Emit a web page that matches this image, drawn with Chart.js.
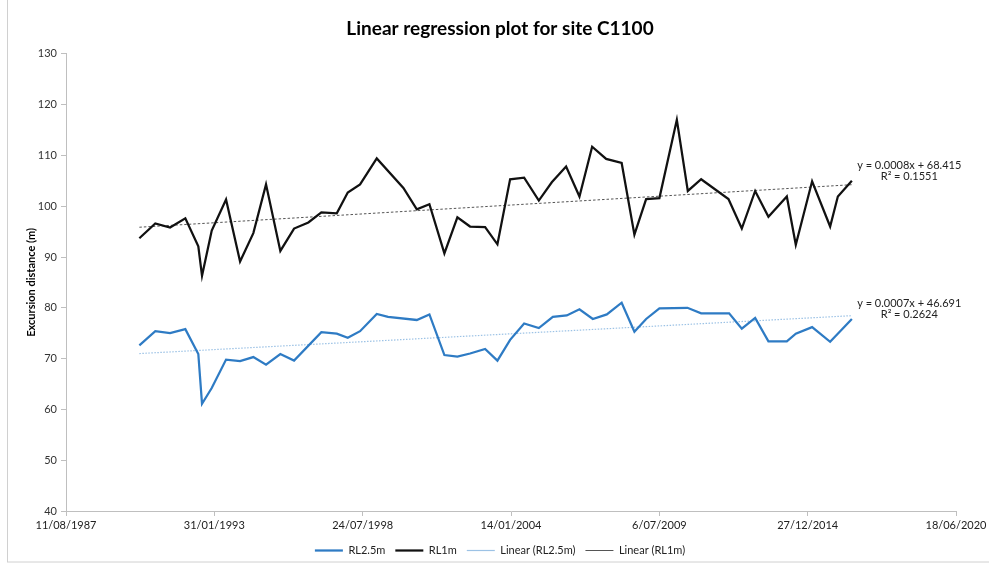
<!DOCTYPE html>
<html>
<head>
<meta charset="utf-8">
<script src="https://cdn.jsdelivr.net/npm/chart.js@4.4.0/dist/chart.umd.min.js"></script>
<style>
  html, body { margin: 0; padding: 0; background: #fff; }
  #wrap { width: 989px; height: 566px; position: relative; }
</style>
</head>
<body>
<div id="wrap"><canvas id="regChart"></canvas></div>
<script>
// x values are Excel serial day numbers (days since 30/12/1899)
const rl1mDates = [32989, 33204, 33403, 33609, 33784, 33834, 33965, 34158, 34347, 34526,
  34697, 34890, 35075, 35268, 35443, 35651, 35799, 35965, 36190, 36549,
  36730, 36900, 37102, 37277, 37448, 37651, 37817, 37988, 38177, 38375,
  38550, 38743, 38923, 39094, 39283, 39492, 39664, 39822, 40001, 40236,
  40384, 40564, 40932, 41112, 41292, 41471, 41719, 41840, 42060, 42303,
  42407, 42596];
const rl1mValues = [93.7, 96.6, 95.8, 97.6, 92.1, 86.3, 95.2, 101.3, 89.1, 94.7,
  104.3, 91.2, 95.6, 96.8, 98.8, 98.6, 102.7, 104.3, 109.4, 103.6,
  99.4, 100.4, 90.7, 97.8, 96.0, 95.9, 92.5, 105.3, 105.6, 101.1,
  104.7, 107.8, 101.9, 111.7, 109.3, 108.5, 94.4, 101.4, 101.6, 117.0,
  103.0, 105.3, 101.4, 95.6, 103.0, 97.9, 101.9, 92.4, 104.9, 96.0,
  101.9, 105.0];

const rl25Dates = [32989, 33204, 33403, 33609, 33784, 33834, 33965, 34158, 34347, 34526,
  34697, 34890, 35075, 35443, 35651, 35799, 35965, 36190, 36342, 36730,
  36900, 37102, 37277, 37448, 37651, 37817, 37988, 38177, 38375, 38564,
  38752, 38923, 39103, 39292, 39492, 39664, 39822, 40001, 40379, 40564,
  40941, 41112, 41292, 41471, 41719, 41840, 42060, 42303, 42596];
const rl25Values = [72.6, 75.4, 75.0, 75.8, 70.9, 61.1, 64.2, 69.8, 69.5, 70.3,
  68.8, 70.9, 69.6, 75.2, 74.9, 74.1, 75.4, 78.8, 78.2, 77.6,
  78.7, 70.7, 70.4, 71.0, 71.9, 69.6, 73.7, 76.9, 76.0, 78.2,
  78.5, 79.7, 77.8, 78.7, 81.0, 75.3, 77.8, 79.9, 80.0, 78.9,
  78.9, 75.9, 78.0, 73.4, 73.4, 74.9, 76.2, 73.3, 77.8];

const seriesNames = ['RL2.5m', 'RL1m', 'Linear (RL2.5m)', 'Linear (RL1m)'];
const eqLabels = [
  { lines: ['y = 0.0007x + 46.691', 'R\u00b2 = 0.2624'], x: 43370, y: [80.8, 78.6] },
  { lines: ['y = 0.0008x + 68.415', 'R\u00b2 = 0.1551'], x: 43370, y: [108.1, 105.8] }
];

const fontFam = 'Lato, "Open Sans", sans-serif';

function toPoints(xs, ys) {
  return xs.map((x, i) => ({ x: x, y: ys[i] }));
}

// least squares trend line, drawn between first and last date
function trend(xs, ys) {
  const n = xs.length;
  let sx = 0, sy = 0, sxx = 0, sxy = 0;
  for (let i = 0; i < n; i++) {
    sx += xs[i]; sy += ys[i]; sxx += xs[i] * xs[i]; sxy += xs[i] * ys[i];
  }
  const m = (n * sxy - sx * sy) / (n * sxx - sx * sx);
  const b = (sy - m * sx) / n;
  const x0 = xs[0], x1 = xs[n - 1];
  return [{ x: x0, y: m * x0 + b }, { x: x1, y: m * x1 + b }];
}

function serialToLabel(v) {
  const d = new Date(Date.UTC(1899, 11, 30) + v * 86400000);
  const mm = String(d.getUTCMonth() + 1).padStart(2, '0');
  return d.getUTCDate() + '/' + mm + '/' + d.getUTCFullYear();
}

const frameAndLabels = {
  id: 'frameAndLabels',
  beforeDraw: (chart) => {
    const ctx = chart.ctx;
    ctx.save();
    ctx.fillStyle = '#fff';
    ctx.fillRect(0, 0, chart.width, chart.height);
    ctx.strokeStyle = '#d0d0d0';
    ctx.lineWidth = 1;
    ctx.strokeRect(7.5, -1, chart.width - 6, chart.height - 3);
    ctx.restore();
  },
  afterDraw: (chart) => {
    const ctx = chart.ctx;
    const xs = chart.scales.x, ys = chart.scales.y;
    ctx.save();
    ctx.font = '11px ' + fontFam;
    ctx.fillStyle = '#222';
    ctx.textAlign = 'center';
    ctx.textBaseline = 'middle';
    eqLabels.forEach(l => {
      l.lines.forEach((t, i) => {
        ctx.fillText(t, xs.getPixelForValue(l.x), ys.getPixelForValue(l.y[i]));
      });
    });
    ctx.restore();
  }
};

Chart.register(frameAndLabels);

new Chart(document.getElementById('regChart'), {
  type: 'line',
  data: {
    datasets: [
      {
        label: seriesNames[0],
        data: toPoints(rl25Dates, rl25Values),
        borderColor: '#2e7bc4',
        backgroundColor: '#2e7bc4',
        borderWidth: 2.25,
        pointRadius: 0,
        tension: 0
      },
      {
        label: seriesNames[1],
        data: toPoints(rl1mDates, rl1mValues),
        borderColor: '#111',
        backgroundColor: '#111',
        borderWidth: 2.25,
        pointRadius: 0,
        tension: 0
      },
      {
        label: seriesNames[2],
        data: trend(rl25Dates, rl25Values),
        borderColor: '#9cc2e5',
        backgroundColor: '#9cc2e5',
        borderWidth: 1.2,
        borderDash: [1.5, 1.5],
        pointRadius: 0
      },
      {
        label: seriesNames[3],
        data: trend(rl1mDates, rl1mValues),
        borderColor: '#555',
        backgroundColor: '#555',
        borderWidth: 1,
        borderDash: [2.5, 2],
        pointRadius: 0
      }
    ]
  },
  options: {
    responsive: true,
    maintainAspectRatio: false,
    animation: false,
    layout: { padding: { left: 25, right: 14, top: 0, bottom: 0 } },
    scales: {
      x: {
        type: 'linear',
        min: 32000,
        max: 44000,
        afterFit: (scale) => {
          scale.paddingLeft = 0;
          scale.paddingRight = 33;
          scale.height = 24;
        },
        ticks: {
          stepSize: 2000,
          color: '#222',
          font: { family: fontFam, size: 11 },
          maxRotation: 0,
          padding: 3,
          callback: (v) => serialToLabel(v)
        },
        grid: { drawOnChartArea: false, color: '#bfbfbf', tickLength: 5 },
        border: { color: '#bfbfbf' }
      },
      y: {
        min: 40,
        max: 130,
        afterFit: (scale) => { scale.width = 41; },
        ticks: {
          stepSize: 10,
          color: '#333',
          font: { family: fontFam, size: 11 },
          padding: 4
        },
        grid: { drawOnChartArea: false, color: '#bfbfbf', tickLength: 5 },
        border: { color: '#bfbfbf' },
        title: {
          display: true,
          text: 'Excursion distance (m)',
          color: '#000',
          font: { family: fontFam, size: 11, weight: 'bold' },
          padding: { top: 0, bottom: 4 }
        }
      }
    },
    plugins: {
      title: {
        display: true,
        text: 'Linear regression plot for site C1100',
        color: '#000',
        font: { family: fontFam, size: 19, weight: 'bold' },
        padding: { top: 17, bottom: 14 }
      },
      legend: {
        position: 'bottom',
        labels: {
          usePointStyle: true,
          pointStyle: 'line',
          pointStyleWidth: 28,
          boxHeight: 8,
          color: '#222',
          padding: 10,
          font: { family: fontFam, size: 11 }
        }
      },
      tooltip: { enabled: false }
    }
  }
});
</script>
</body>
</html>
